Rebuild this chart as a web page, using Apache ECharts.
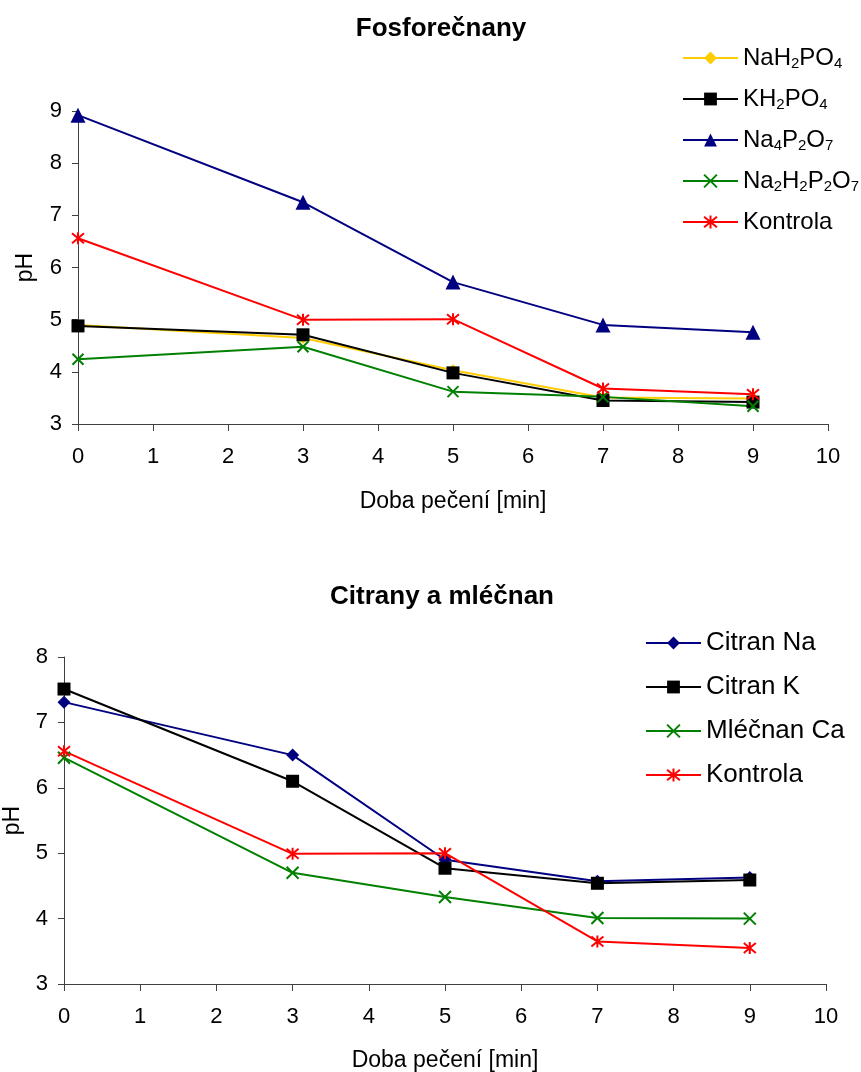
<!DOCTYPE html>
<html><head><meta charset="utf-8">
<script src="https://cdn.jsdelivr.net/npm/echarts@6/dist/echarts.min.js"></script>
<style>html,body{margin:0;padding:0;background:#fff}#c{width:861px;height:1072px}</style>
</head><body><div id="c"></div>
<script>
const times = [0, 3, 5, 7, 9];
// Chart 1: Fosforečnany
const nah2po4 = [4.9, 4.65, 4.03, 3.51, 3.49];
const kh2po4 = [4.88, 4.71, 3.98, 3.45, 3.42];
const na4p2o7 = [8.92, 7.25, 5.72, 4.9, 4.76];
const na2h2p2o7 = [4.24, 4.48, 3.62, 3.52, 3.34];
const kontrola1 = [6.56, 5.0, 5.01, 3.68, 3.57];
// Chart 2: Citrany a mléčnan
const citranNa = [7.31, 6.5, 4.9, 4.57, 4.63];
const citranK = [7.51, 6.1, 4.77, 4.54, 4.59];
const mlecnanCa = [6.46, 4.7, 4.33, 4.01, 4.0];
const kontrola2 = [6.56, 4.99, 5.0, 3.65, 3.55];

const legend1 = ['NaH2PO4', 'KH2PO4', 'Na4P2O7', 'Na2H2P2O7', 'Kontrola'];
const legend2 = ['Citran Na', 'Citran K', 'Mléčnan Ca', 'Kontrola '];
const FONT = 'Liberation Sans, Arial, sans-serif';

const X_PATH = 'path://M0,0L10,10M10,0L0,10';
const STAR_PATH = 'path://M0,0L10,10M10,0L0,10M5,-1L5,11';

function pts(vals){ return times.map((t,i)=>[t, vals[i]]); }
function ser(name, vals, color, symbol, size, idx, stroke){
  return {
    name, type:'line', xAxisIndex: idx, yAxisIndex: idx,
    data: pts(vals), symbol, symbolSize: size,
    lineStyle:{color, width:2}, animation:false,
    itemStyle:{color, borderColor: color, borderWidth: stroke ? 2 : 0},
    emphasis:{disabled:true}
  };
}
function fmt(name){
  let s = '{n|' + name.replace(/(\d)/g, '}{s|$1}{n|') + '}';
  return s.replace(/\{n\|\}/g, '');
}
function xAxis(idx, gap){
  return {gridIndex: idx, type:'value', min:0, max:10, interval:1,
    name:'Doba pečení [min]', nameLocation:'middle', nameGap: gap,
    nameTextStyle:{fontSize:23, color:'#000', fontFamily:FONT},
    axisLine:{lineStyle:{color:'#404040', width:1}},
    axisTick:{show:true, length:7, lineStyle:{color:'#404040'}},
    axisLabel:{fontSize:22, color:'#000', fontFamily:FONT, margin:22},
    splitLine:{show:false}};
}
function yAxis(idx, min, max, gap){
  return {gridIndex: idx, type:'value', min, max, interval:1,
    name:'pH', nameLocation:'middle', nameGap: gap, nameRotate:90,
    nameTextStyle:{fontSize:23, color:'#000', fontFamily:FONT},
    axisLine:{show:true, lineStyle:{color:'#404040', width:1}},
    axisTick:{show:true, length:6, lineStyle:{color:'#404040'}},
    axisLabel:{fontSize:22, color:'#000', fontFamily:FONT, margin:16},
    splitLine:{show:false}};
}

const chart = echarts.init(document.getElementById('c'), null, {renderer:'canvas'});
chart.setOption({
  backgroundColor:'#fff',
  animation:false,
  title:[
    {text:'Fosforečnany', left:436, top:11, textAlign:'center',
     textStyle:{fontSize:26, fontWeight:'bold', color:'#000', fontFamily:FONT}},
    {text:'Citrany a mléčnan', left:437, top:579, textAlign:'center',
     textStyle:{fontSize:26, fontWeight:'bold', color:'#000', fontFamily:FONT}}
  ],
  grid:[
    {left:78, right:33, top:111, bottom:648, outerBoundsMode:'none', containLabel:false},
    {left:64, right:35, top:657, bottom:88, outerBoundsMode:'none', containLabel:false}
  ],
  xAxis:[xAxis(0, 66), xAxis(1, 65)],
  yAxis:[yAxis(0, 3, 9, 41), yAxis(1, 3, 8, 40)],
  legend:[
    {orient:'vertical', left:677, top:41, itemWidth:55, itemHeight:16, itemGap:16,
     data: legend1.map(n=>({name:n})),
     formatter: fmt,
     textStyle:{color:'#000', fontFamily:FONT,
       rich:{n:{fontSize:24, lineHeight:26, color:'#000', fontFamily:FONT},
             s:{fontSize:15, lineHeight:10, verticalAlign:'bottom', color:'#000', fontFamily:FONT}}}},
    {orient:'vertical', left:640, top:625, itemWidth:55, itemHeight:16, itemGap:18,
     data: legend2.map(n=>({name:n})),
     formatter: n=>n.trim(),
     textStyle:{color:'#000', fontFamily:FONT, fontSize:26, lineHeight:26}}
  ],
  series:[
    ser('NaH2PO4', nah2po4, '#FFCC00', 'diamond', 12, 0, false),
    ser('KH2PO4', kh2po4, '#000000', 'rect', 13, 0, false),
    ser('Na4P2O7', na4p2o7, '#000080', 'triangle', 15, 0, false),
    ser('Na2H2P2O7', na2h2p2o7, '#008000', X_PATH, 11, 0, true),
    ser('Kontrola', kontrola1, '#FF0000', STAR_PATH, 12, 0, true),
    ser('Citran Na', citranNa, '#000080', 'diamond', 13, 1, false),
    ser('Citran K', citranK, '#000000', 'rect', 13, 1, false),
    ser('Mléčnan Ca', mlecnanCa, '#008000', X_PATH, 12, 1, true),
    ser('Kontrola ', kontrola2, '#FF0000', STAR_PATH, 12, 1, true)
  ]
});
</script></body></html>
